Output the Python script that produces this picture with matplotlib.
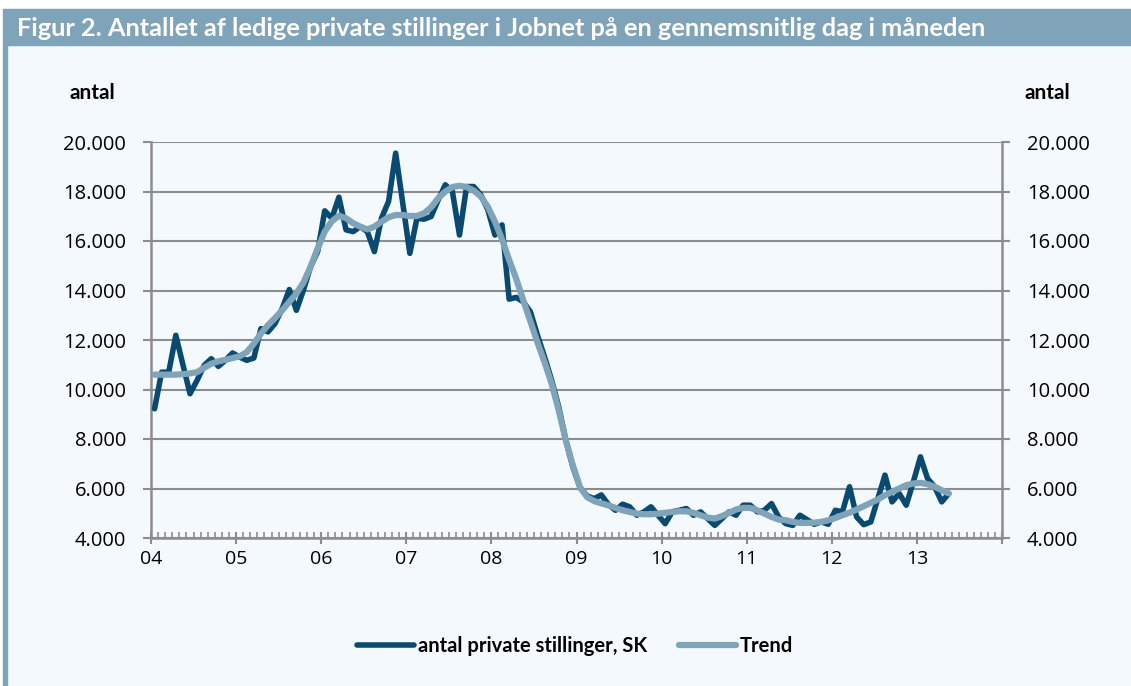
import numpy as np
import matplotlib.pyplot as plt
from matplotlib.patches import Rectangle
from matplotlib.ticker import FuncFormatter, MultipleLocator

# monthly values, Jan 2004 .. May 2013
stillinger = [
    9220, 10700, 10700, 12190, 11000, 9830, 10370, 10975, 11245, 10935, 11180, 11475,
    11310, 11180, 11270, 12460, 12330, 12670, 13270, 14040, 13200, 14020, 14960, 15570,
    17220, 16920, 17770, 16450, 16380, 16580, 16380, 15570, 16920, 17600, 19550, 17530,
    15500, 16920, 16880, 16990, 17660, 18270, 18000, 16240, 18200, 18200, 17870, 17260,
    16240, 16650, 13650, 13720, 13540, 13140, 12190, 11310, 10370, 9290, 7940, 6850,
    6040, 5700, 5590, 5740, 5350, 5120, 5365, 5260, 4920, 5055, 5260, 4920,
    4580, 5055, 5120, 5190, 4920, 5055, 4780, 4510, 4780, 5055, 4920, 5325,
    5325, 5055, 5120, 5390, 4850, 4580, 4510, 4920, 4745, 4555, 4650, 4555,
    5120, 5055, 6070, 4850, 4540, 4650, 5595, 6540, 5460, 5800, 5325, 6270,
    7280, 6405, 6070, 5460, 5800,
]
trend = [
    10600, 10600, 10600, 10600, 10620, 10650, 10700, 10880, 11040, 11140, 11200, 11270,
    11340, 11510, 11850, 12260, 12600, 12890, 13200, 13540, 13880, 14320, 14960, 15700,
    16380, 16800, 17020, 16920, 16720, 16580, 16470, 16580, 16780, 16960, 17050, 17050,
    17010, 17010, 17120, 17360, 17730, 18000, 18180, 18230, 18180, 18040, 17800, 17380,
    16780, 16070, 15240, 14470, 13600, 12750, 11900, 11100, 10230, 9150, 7940, 6920,
    6050, 5650, 5490, 5400, 5320, 5215, 5120, 5055, 4985, 4960, 4960, 4985,
    5015, 5055, 5080, 5080, 5015, 4920, 4825, 4785, 4880, 5015, 5150, 5215,
    5215, 5120, 4985, 4850, 4745, 4720, 4650, 4610, 4610, 4620, 4650, 4715,
    4810, 4920, 5025, 5150, 5285, 5420, 5555, 5730, 5865, 6000, 6135, 6200,
    6230, 6175, 6070, 5930, 5800,
]
year_labels = ["04", "05", "06", "07", "08", "09", "10", "11", "12", "13", ""]

DARK = "#0a4a70"
LIGHT = "#7fa3b8"
BG = "#f4f9fd"
GRID = "#8c8c8c"
W, H = 1131, 686


def thousands(v, pos):
    return f"{int(v):,}".replace(",", ".")


def main():
    fig = plt.figure(figsize=(W / 100, H / 100), dpi=100, facecolor="white")

    # frame: body, title bar, left border
    fig.patches.append(Rectangle((3 / W, 0), 1, 1 - 45 / H, transform=fig.transFigure,
                                 color=BG, zorder=-10))
    fig.patches.append(Rectangle((3 / W, 1 - 45 / H), 1, 36 / H, transform=fig.transFigure,
                                 color=LIGHT, zorder=-9))
    fig.patches.append(Rectangle((3 / W, 0), 4 / W, 1 - 45 / H, transform=fig.transFigure,
                                 color=LIGHT, zorder=-9))
    fig.text(17 / W, 1 - 29 / H,
             "Figur 2. Antallet af ledige private stillinger i Jobnet på en gennemsnitlig dag i måneden",
             color="white", fontsize=18.3, fontweight="bold", family="Lato", va="center", ha="left")

    ax = fig.add_axes([151 / W, 1 - 538 / H, (1002 - 151) / W, (538 - 142) / H])
    ax.set_facecolor(BG)
    x = np.arange(len(stillinger)) + 0.5
    ax.plot(x, stillinger, color=DARK, lw=4, solid_joinstyle="round",
            solid_capstyle="round", label="antal private stillinger, SK", zorder=3)
    ax.plot(x, trend, color=LIGHT, lw=4.5, solid_joinstyle="round",
            solid_capstyle="round", label="Trend", zorder=4)

    ax.set_xlim(0, 120)
    ax.set_ylim(4000, 20000)
    ax.set_xticks(np.arange(0, 121, 12))
    ax.set_xticklabels(year_labels)
    ax.xaxis.set_minor_locator(MultipleLocator(1))
    ax.yaxis.set_major_locator(MultipleLocator(2000))
    ax.yaxis.set_major_formatter(FuncFormatter(thousands))
    ax.grid(True, axis="y", color=GRID, lw=1.5)
    ax.set_axisbelow(True)

    for s in ["left", "right", "bottom"]:
        ax.spines[s].set_color(GRID)
        ax.spines[s].set_linewidth(1.8)
    ax.spines["top"].set_visible(False)

    ax.tick_params(axis="x", which="major", direction="inout", length=9, width=1.5,
                   color=GRID, labelsize=14, pad=4)
    ax.tick_params(axis="x", which="minor", direction="in", length=4, width=1.2, color=GRID)
    ax.tick_params(axis="y", which="major", direction="out", length=6, width=1.5,
                   color=GRID, labelsize=14.5, pad=12, right=True, labelright=True)
    for lab in ax.get_xticklabels() + ax.get_yticklabels():
        lab.set_family("Open Sans")

    fig.text(70 / W, 1 - 93 / H, "antal", fontsize=15, fontweight="bold", family="Lato",
             va="center", ha="left")
    fig.text(1070 / W, 1 - 93 / H, "antal", fontsize=15, fontweight="bold", family="Lato",
             va="center", ha="right")

    fig.legend(loc="center", bbox_to_anchor=(575 / W, 1 - 646 / H), ncol=2, frameon=False,
               handlelength=2.8, handletextpad=0.2, columnspacing=1.6,
               prop={"family": "Lato", "weight": "bold", "size": 14.5})

    fig.savefig("out.png", dpi=100, facecolor="white")


if __name__ == "__main__":
    main()
